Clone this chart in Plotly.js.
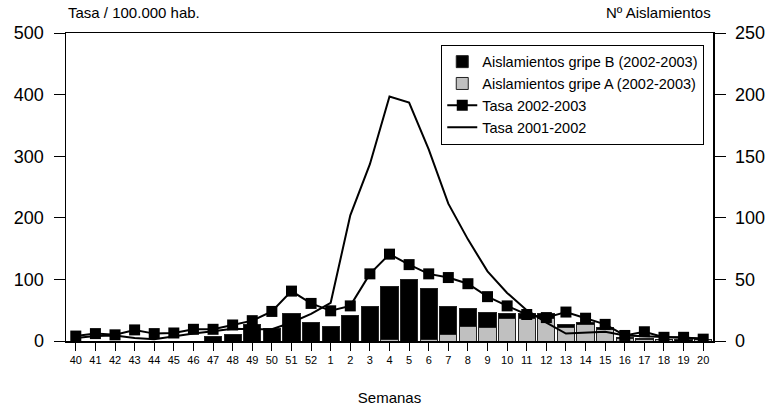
<!DOCTYPE html>
<html>
<head>
<meta charset="utf-8">
<script src="https://cdn.plot.ly/plotly-3.0.1.min.js"></script>
<style>html,body{margin:0;padding:0;background:#fff;}#chart{width:769px;height:412px;}</style>
</head>
<body>
<div id="chart"></div>
<script>
const weeks = ['40','41','42','43','44','45','46','47','48','49','50','51','52','1','2','3','4','5','6','7','8','9','10','11','12','13','14','15','16','17','18','19','20'];
const gripeB = [0,0,0,0,0,0,0,4,5,13,10,22,15,12,21,28,43,50,42,23,14,12,4,4,4,2,2,2,1,1,0,1,0];
const gripeA = [0,0,0,0,0,0,0,0,0,0,0,0,0,0,0,0,1,0,1,5,12,11,18,18,18,11,13,9,2,1,1,0,1];
const tasa0203 = [8,12,10,18,12,13,19,19,26,33,48,81,61,49,57,109,141,124,109,103,93,72,57,43,38,47,37,27,9,15,6,6,3];
const tasa0102 = [5,8,9,5,3,8,12,16,20,19,19,30,44,62,204,287,397,387,311,223,165,113,78,50,30,12,14,15,9,8,7,5,4];
const leftTicks = [0,100,200,300,400,500];
const rightTicks = [0,50,100,150,200,250];

const F = 'Arial, "Liberation Sans", sans-serif';
const traces = [
  {type:'bar', x:weeks, y:gripeA, name:'Aislamientos gripe A (2002-2003)', yaxis:'y',
   marker:{color:'#c0c0c0', line:{color:'#222', width:1}}, legendrank:2, legendgroup:'a'},
  {type:'bar', x:weeks, y:gripeB, name:'Aislamientos gripe B (2002-2003)', yaxis:'y',
   marker:{color:'#000', line:{color:'#222', width:1}}, legendrank:1, legendgroup:'b'},
  {type:'scatter', mode:'lines+markers', x:weeks, y:tasa0203, name:'Tasa 2002-2003', yaxis:'y2',
   line:{color:'#000', width:2}, marker:{symbol:'square', size:11, color:'#000'}, legendrank:3, legendgroup:'c'},
  {type:'scatter', mode:'lines', x:weeks, y:tasa0102, name:'Tasa 2001-2002', yaxis:'y2',
   line:{color:'#000', width:2}, legendrank:4, legendgroup:'d'}
];
const layout = {
  width:769, height:412,
  margin:{l:66, r:56, t:33, b:71},
  paper_bgcolor:'#fff', plot_bgcolor:'#fff',
  font:{family:F, color:'#000'},
  barmode:'stack', bargap:0.12,
  showlegend:true,
  legend:{x:0.58, y:0.962, xanchor:'left', yanchor:'top', bgcolor:'#fff', bordercolor:'#000', borderwidth:1,
    font:{family:F, size:14.5, color:'#000'}, traceorder:'grouped', tracegroupgap:0, itemwidth:30},
  xaxis:{type:'category', categoryorder:'array', categoryarray:weeks, range:[-0.5, 32.5], autorange:false,
    showline:true, linecolor:'#000', linewidth:1.5,
    mirror:true, ticks:'outside', ticklen:8, tickcolor:'#000', tickfont:{family:F, size:11}, showgrid:false, zeroline:false,
    title:{text:'Semanas', font:{family:F, size:15}, standoff:28}},
  yaxis:{side:'right', range:[0,250], tickvals:rightTicks, showline:true, linecolor:'#000', linewidth:1.5,
    ticks:'outside', ticklen:11, tickcolor:'#000', tickfont:{family:F, size:18}, ticklabelstandoff:6, showgrid:false, zeroline:false},
  yaxis2:{overlaying:'y', side:'left', range:[0,500], tickvals:leftTicks, showline:true, linecolor:'#000', linewidth:1.5,
    ticks:'outside', ticklen:11, tickcolor:'#000', tickfont:{family:F, size:18}, ticklabelstandoff:6, showgrid:false, zeroline:false},
  annotations:[
    {text:'Tasa / 100.000 hab.', xref:'paper', yref:'paper', x:0, y:1, xanchor:'left', yanchor:'bottom', yshift:10, showarrow:false,
     font:{family:F, size:15}},
    {text:'Nº Aislamientos', xref:'paper', yref:'paper', x:1, y:1, xanchor:'right', yanchor:'bottom', yshift:10, showarrow:false,
     font:{family:F, size:15}}
  ]
};
Plotly.newPlot('chart', traces, layout, {displayModeBar:false, staticPlot:true});
</script>
</body>
</html>
